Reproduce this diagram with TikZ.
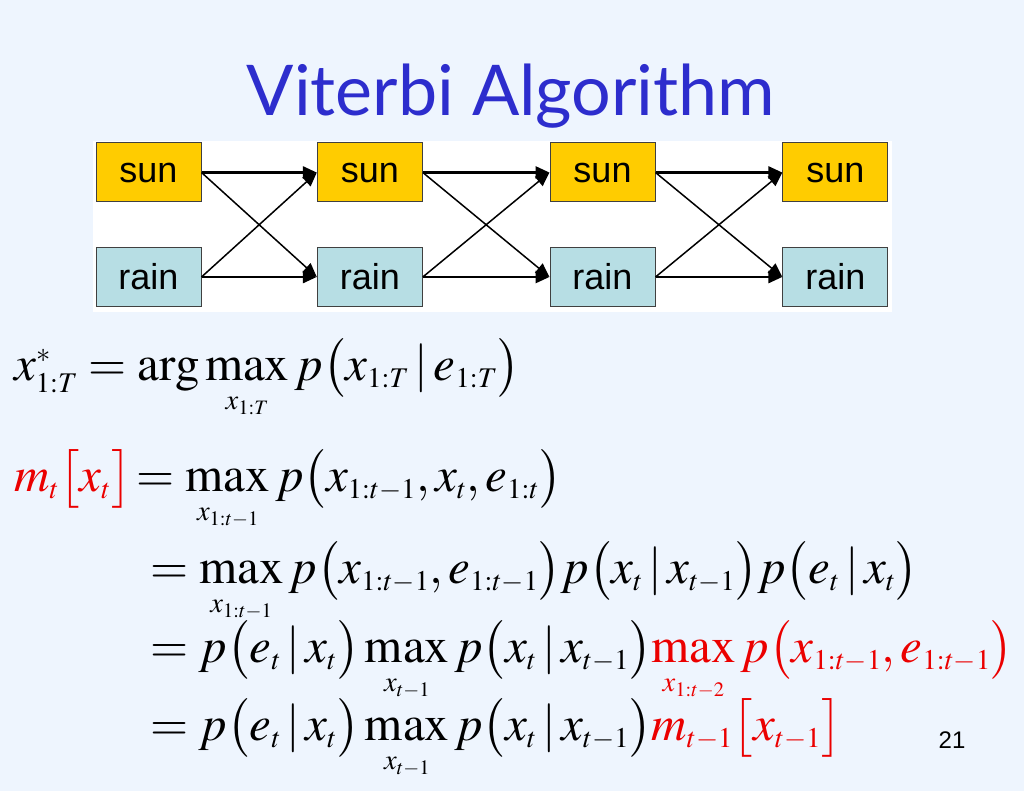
\documentclass[tikz,border=0pt]{standalone}
\usepackage{amsmath}
\usepackage{mathptmx}
\usepackage{fontspec}
\setmainfont{Liberation Serif}
\newfontfamily\arialfont{Liberation Sans}
\newfontfamily\titlefont{Lato}
\usetikzlibrary{arrows.meta}
\DeclareMathSizes{49}{49}{28.5}{20.5}
\definecolor{slidebg}{RGB}{238,245,254}
\definecolor{titleblue}{RGB}{45,45,205}
\definecolor{sunfill}{RGB}{255,204,0}
\definecolor{rainfill}{RGB}{183,222,228}
\definecolor{eqred}{RGB}{235,0,0}
\newcommand{\eqfont}{\fontsize{49}{58}\selectfont}
\newcommand{\given}{\mskip2mu|\mskip2mu}
\begin{document}
\begin{tikzpicture}[x=1pt,y=-1pt,
  state/.style={draw=black!75, line width=1pt, minimum width=105pt, minimum height=59pt,
    inner sep=0pt, font=\arialfont\fontsize{36}{38}\selectfont},
  hbar/.style={line width=2.8pt, -{Triangle[length=14pt,width=12pt]}},
  xbar/.style={line width=1.5pt, -{Triangle[length=14pt,width=12pt]}},
  eqn/.style={anchor=base west, inner sep=0pt, font=\eqfont}]
  \useasboundingbox (0,0) rectangle (1024,791);
  \fill[slidebg] (0,0) rectangle (1024,791);
  % title
  \node[anchor=base, text=titleblue, font=\titlefont\fontsize{70}{74}\selectfont] (title) at (511,116) {Viterbi Algorithm};
  % trellis
  \fill[white] (93,141) rectangle (892,312);
  \foreach \n/\x in {1/148.5,2/369.8,3/602.5,4/835.3} {
    \node[state, fill=sunfill] (s\n) at (\x,172.5) {sun};
    \node[state, fill=rainfill] (r\n) at (\x,277) {rain};
  }
  \foreach \i/\j in {1/2,2/3,3/4} {
    \draw[xbar] (s\i.east) -- (r\j.west);
    \draw[xbar] (r\i.east) -- (s\j.west);
    \draw[hbar] (s\i.east) -- (s\j.west);
    \draw[hbar] (r\i.east) -- (r\j.west);
  }
  % equations
  \node[eqn] (eq1) at (14,380) {$x^{*}_{1:T} = \arg\max\limits_{x_{1:T}} p\bigl(x_{1:T} \given e_{1:T}\bigr)$};
  \node[eqn] (eq2) at (14,491) {$\color{eqred} m_{t}\big[x_{t}\big]\color{black}\!= \max\limits_{x_{1:t-1}} p\bigl(x_{1:t-1}, x_{t}, e_{1:t}\bigr)$};
  \node[eqn] (eq3) at (150,583) {$= \max\limits_{x_{1:t-1}} p\bigl(x_{1:t-1}, e_{1:t-1}\bigr) p\bigl(x_{t} \given x_{t-1}\bigr) p\bigl(e_{t} \given x_{t}\bigr)$};
  \node[eqn] (eq4) at (150,662) {$= p\bigl(e_{t} \given x_{t}\bigr) \max\limits_{x_{t-1}} p\bigl(x_{t} \given x_{t-1}\bigr) {\color{eqred}\max\limits_{x_{1:t-2}} p\bigl(x_{1:t-1}, e_{1:t-1}\bigr)}$};
  \node[eqn] (eq5) at (150,740) {$= p\bigl(e_{t} \given x_{t}\bigr) \max\limits_{x_{t-1}} p\bigl(x_{t} \given x_{t-1}\bigr) {\color{eqred} m_{t-1}\big[x_{t-1}\big]}$};
  \node[anchor=base, font=\arialfont\fontsize{24}{26}\selectfont] (page) at (952,748) {21};
\end{tikzpicture}
\end{document}
